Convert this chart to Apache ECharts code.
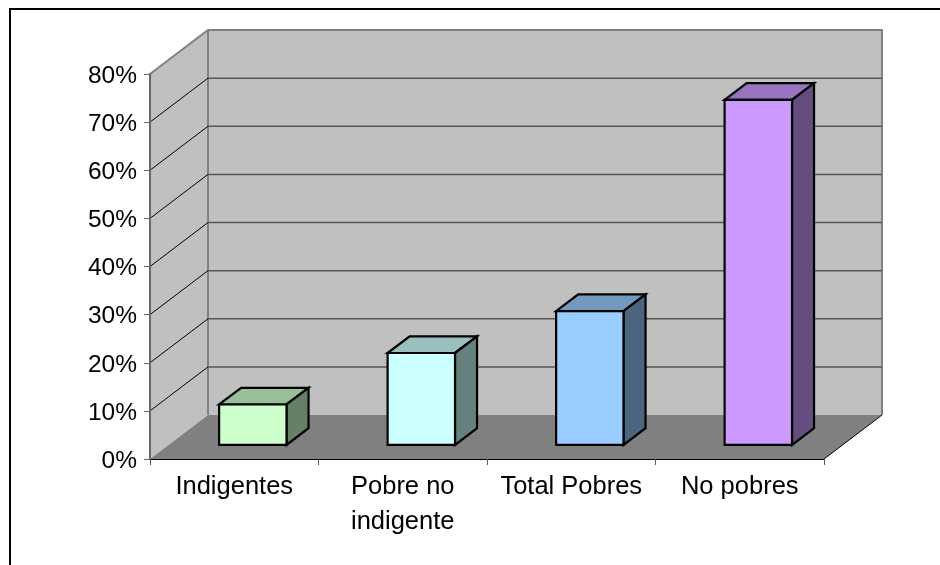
<!DOCTYPE html>
<html><head><meta charset="utf-8">
<style>html,body{margin:0;padding:0;background:#fff}#c{width:940px;height:565px}</style>
<script src="https://cdn.jsdelivr.net/npm/echarts@6/dist/echarts.min.js"></script>
</head><body><div id="c"></div>
<script>
const categories = ['Indigentes', 'Pobre no\nindigente', 'Total Pobres', 'No pobres'];
const values = [8.4, 19.1, 27.8, 71.7];
const frontColors = ['#CCFFCC', '#CCFFFF', '#99CCFF', '#CC99FF'];
const topColors = ['#99BF99', '#99BFBF', '#7399BF', '#9973BF'];
const sideColors = ['#668066', '#668080', '#4D6680', '#664D80'];
const gridValues = [10, 20, 30, 40, 50, 60, 70];
const DX = 58, DY = -44;
const DEPTH_FRONT = 0.32, DEPTH_BACK = 0.7, BAR_FRAC = 0.4;
const YMAX = 80;

const chart = echarts.init(document.getElementById('c'), null, {renderer: 'canvas'});
const off = (p, d) => [p[0] + DX * d, p[1] + DY * d];

function renderWalls(params, api) {
  const a = api.coord([0, 0]), t = api.coord([0, YMAX]);
  const w = api.size([1, 0])[0];
  const x0 = a[0] - w / 2, x1 = x0 + w * categories.length, y0 = a[1], y1 = t[1];
  const fl = [x0, y0], fr = [x1, y0], tl = [x0, y1], tr = [x1, y1];
  const gray = {stroke: '#808080', lineWidth: 2};
  return {type: 'group', silent: true, children: [
    {type: 'polygon', shape: {points: [off(tl, 1), off(tr, 1), off(fr, 1), off(fl, 1)]}, style: {fill: '#C0C0C0'}},
    {type: 'polygon', shape: {points: [tl, off(tl, 1), off(fl, 1), fl]}, style: {fill: '#C0C0C0'}},
    {type: 'polygon', shape: {points: [fl, fr, off(fr, 1), off(fl, 1)]}, style: {fill: '#808080'}},
    {type: 'polyline', shape: {points: [tl, off(tl, 1), off(tr, 1), off(fr, 1)]}, style: Object.assign({fill: null}, gray)},
    {type: 'line', shape: {x1: off(tl, 1)[0], y1: off(tl, 1)[1], x2: off(fl, 1)[0], y2: off(fl, 1)[1]}, style: gray},
    {type: 'line', shape: {x1: fr[0], y1: fr[1], x2: off(fr, 1)[0], y2: off(fr, 1)[1]}, style: {stroke: '#000', lineWidth: 1}}
  ]};
}
function renderGrid(params, api) {
  const v = api.value(0);
  const a = api.coord([0, v]);
  const w = api.size([1, 0])[0];
  const l = [a[0] - w / 2, a[1]], r = [l[0] + w * categories.length, a[1]];
  const bl = off(l, 1), br = off(r, 1);
  return {type: 'group', silent: true, children: [
    {type: 'line', shape: {x1: l[0], y1: l[1], x2: bl[0], y2: bl[1]}, style: {stroke: '#000', lineWidth: 1}},
    {type: 'line', shape: {x1: bl[0], y1: bl[1], x2: br[0], y2: br[1]}, style: {stroke: '#555', lineWidth: 1.5}}
  ]};
}
function renderBar(params, api) {
  const i = api.value(0), v = api.value(1);
  const b = api.coord([i, 0]), t = api.coord([i, v]);
  const hw = api.size([1, 0])[0] * BAR_FRAC / 2;
  const fbl = off([b[0] - hw, b[1]], DEPTH_FRONT), fbr = off([b[0] + hw, b[1]], DEPTH_FRONT);
  const ftl = off([t[0] - hw, t[1]], DEPTH_FRONT), ftr = off([t[0] + hw, t[1]], DEPTH_FRONT);
  const bbr = off([b[0] + hw, b[1]], DEPTH_BACK);
  const btl = off([t[0] - hw, t[1]], DEPTH_BACK), btr = off([t[0] + hw, t[1]], DEPTH_BACK);
  const s = {stroke: '#000', lineWidth: 2.2, lineJoin: 'miter'};
  return {type: 'group', children: [
    {type: 'polygon', shape: {points: [ftl, btl, btr, ftr]}, style: Object.assign({fill: topColors[i]}, s)},
    {type: 'polygon', shape: {points: [ftr, btr, bbr, fbr]}, style: Object.assign({fill: sideColors[i]}, s)},
    {type: 'polygon', shape: {points: [ftl, ftr, fbr, fbl]}, style: Object.assign({fill: frontColors[i]}, s)}
  ]};
}

chart.setOption({
  animation: false,
  backgroundColor: '#fff',
  textStyle: {fontFamily: '"Liberation Sans", Arial, sans-serif'},
  graphic: [{type: 'rect', z: 0, silent: true, shape: {x: 10, y: 9, width: 1000, height: 700}, style: {fill: null, stroke: '#000', lineWidth: 2}}],
  grid: {left: 150, top: 74, width: 674, height: 385},
  tooltip: {show: false},
  xAxis: {
    type: 'category', data: categories, boundaryGap: true, z: 5,
    axisLine: {lineStyle: {color: '#000', width: 1}},
    axisTick: {show: true, alignWithLabel: false, length: 6, lineStyle: {color: '#555', width: 1}},
    splitLine: {show: false},
    axisLabel: {color: '#000', fontSize: 25.5, lineHeight: 35, margin: 10, interval: 0, fontFamily: '"Liberation Sans", Arial, sans-serif'}
  },
  yAxis: {
    type: 'value', min: 0, max: YMAX, interval: 10, z: 5,
    axisLine: {show: true, lineStyle: {color: '#666', width: 2}},
    axisTick: {show: true, length: 6, lineStyle: {color: '#666', width: 1}},
    splitLine: {show: false},
    axisLabel: {
      margin: 13, formatter: '{v|{value}%}',
      rich: {v: {color: '#000', fontSize: 24.5, padding: [4, 0, 0, 0], fontFamily: '"Liberation Sans", Arial, sans-serif'}}
    }
  },
  series: [
    {type: 'custom', z: 1, renderItem: renderWalls, data: [[0]], encode: {x: 0}, silent: true},
    {type: 'custom', z: 2, renderItem: renderGrid, data: gridValues.map(v => [v]), encode: {y: 0}, silent: true},
    {type: 'custom', z: 6, renderItem: renderBar, data: values.map((v, i) => [i, v]), encode: {x: 0, y: 1}}
  ]
});
</script></body></html>
